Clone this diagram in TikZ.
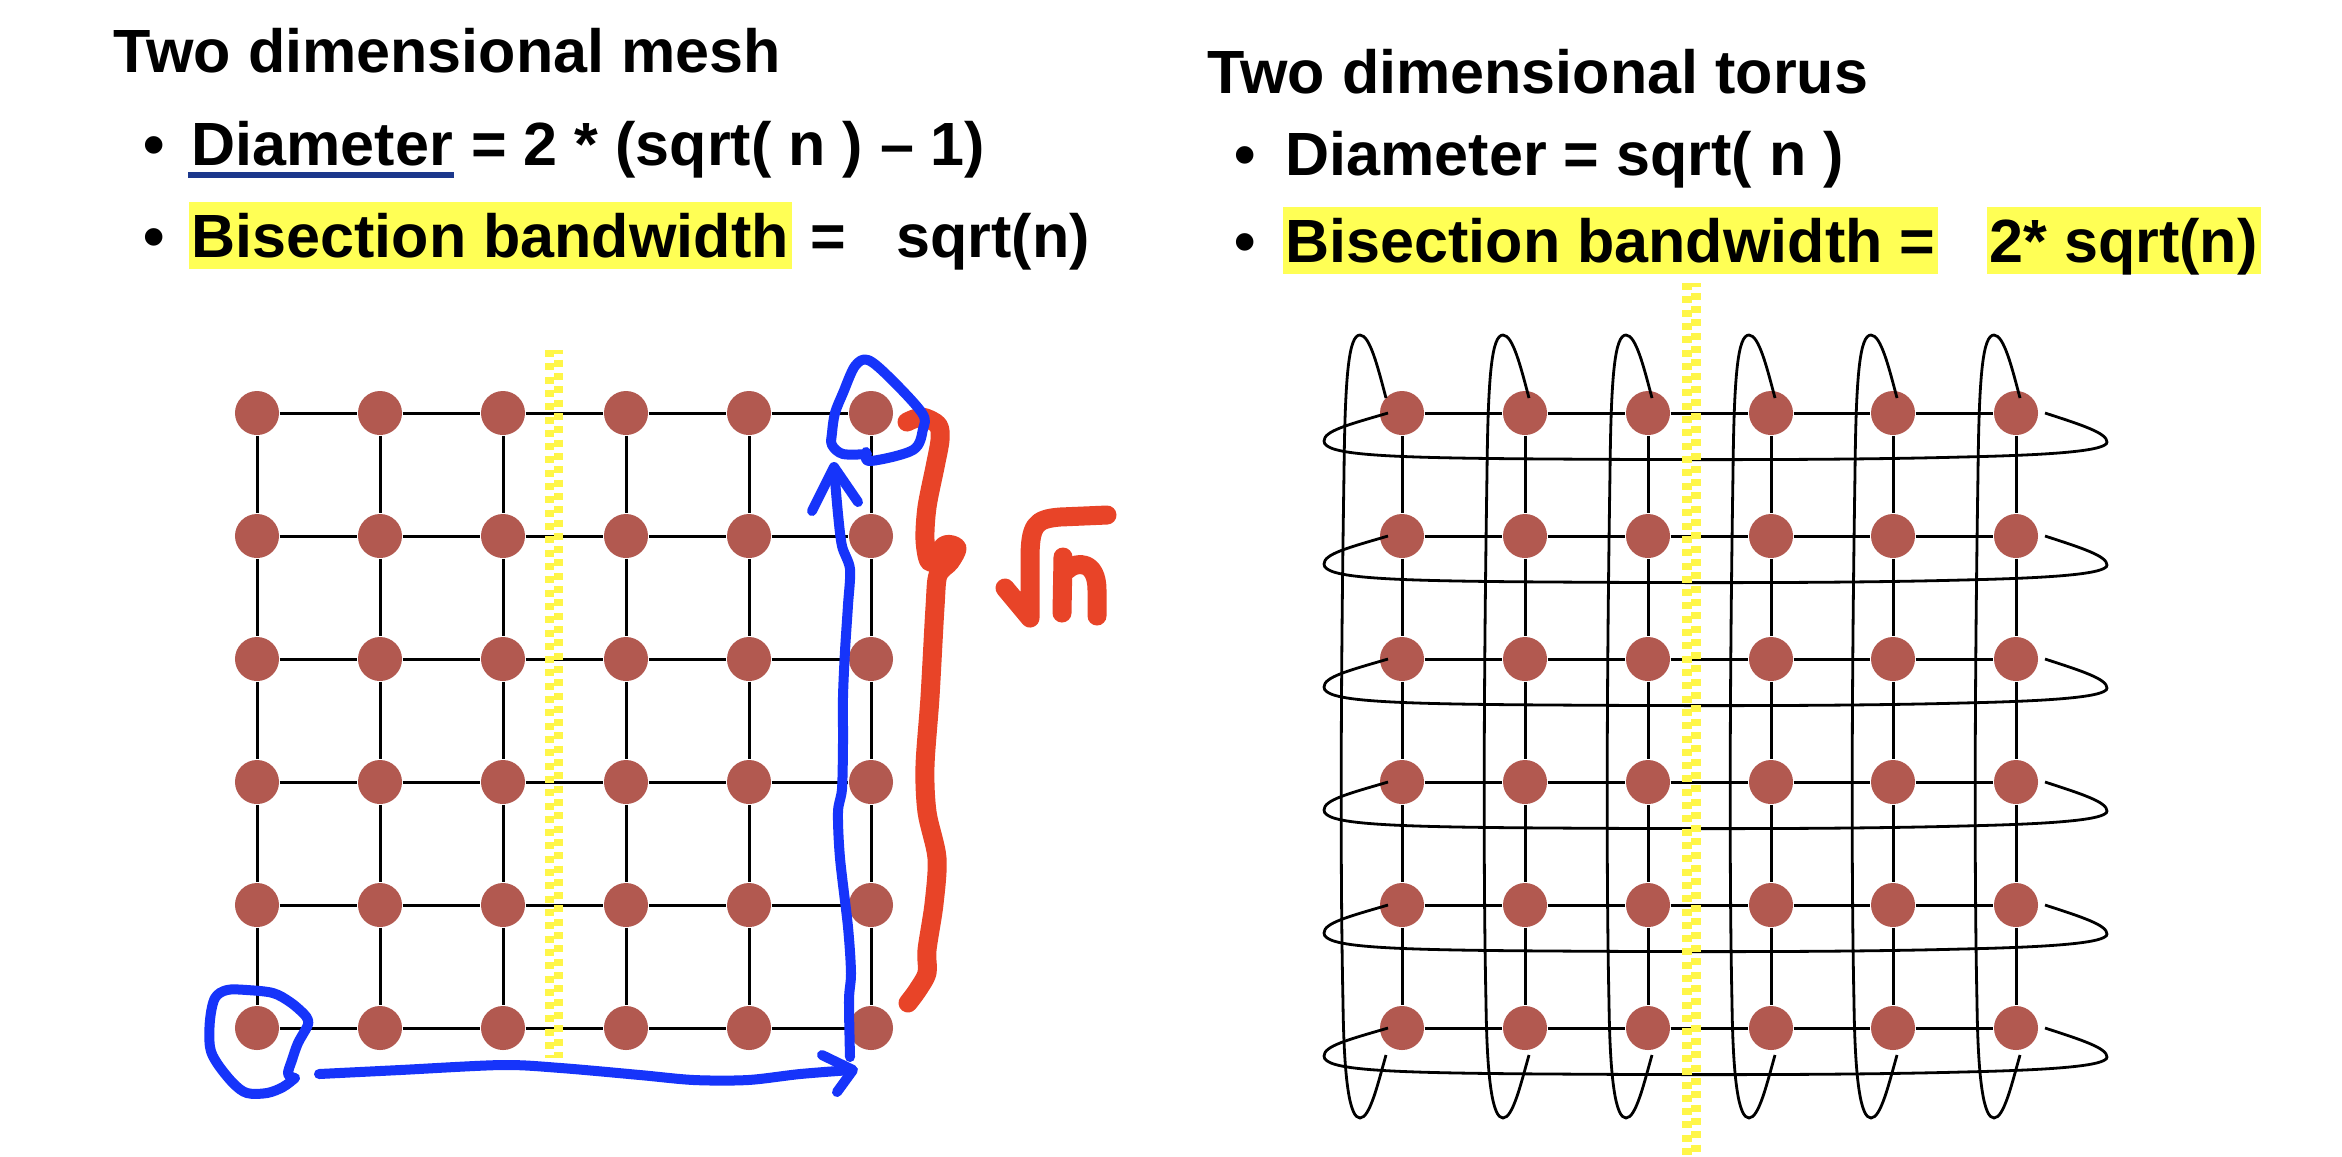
\documentclass[tikz,border=0pt]{standalone}
\usepackage{fontspec}
\setmainfont{Liberation Sans}
\usetikzlibrary{calc}
\definecolor{nodered}{RGB}{178,89,80}
\definecolor{hl}{RGB}{255,255,85}
\definecolor{ydash}{RGB}{255,246,72}
\definecolor{penblue}{RGB}{22,52,250}
\definecolor{penred}{RGB}{232,68,40}
\definecolor{ulblue}{RGB}{28,56,140}
\begin{document}
\begin{tikzpicture}[x=0.01cm, y=-0.01cm,
  font=\bfseries\fontsize{17.36pt}{20pt}\selectfont,
  vert/.style={circle, fill=nodered, minimum size=0.44cm, inner sep=0},
  link/.style={line width=0.03cm, black},
  wrap/.style={line width=0.028cm, black},
  lbl/.style={anchor=base west, inner sep=0},
  hilite/.style={anchor=base west, fill=hl, inner xsep=0.03cm, inner ysep=0,
    text height=0.55cm, text depth=0.12cm},
  underl/.style={ulblue, line width=0.06cm},
  cut/.style={ydash, line width=0.092cm, dash pattern=on 0.07cm off 0.063cm},
  bluepen/.style={penblue, line width=0.1cm, line cap=round, line join=round},
  redpen/.style={penred, line width=0.19cm, line cap=round, line join=round}]

\fill[white] (0,0) rectangle (2342,1156);
\useasboundingbox (0,0) rectangle (2342,1156);

% ---------- texts ----------
\node[lbl] (titleL) at (113,72) {Two dimensional mesh};
\node[lbl] (bulL1) at (143,165) {•};
\node[lbl] (diaL) at (191,165) {Diameter};
\node[lbl] (diaLr) at (diaL.base east) {\ = 2 * (sqrt( n ) – 1)};
\draw[underl] ($(diaL.base west)+(-3,10)$) -- ($(diaL.base east)+(0,10)$);
\node[lbl] (bulL2) at (143,257) {•};
\node[hilite] (bisL) at (188,257) {Bisection bandwidth};
\node[lbl] (bisLr) at (bisL.base east) {\ =\ \ \ sqrt(n)};

\node[lbl] (titleR) at (1207,93) {Two dimensional torus};
\node[lbl] (bulR1) at (1234,175) {•};
\node[lbl] (diaR) at (1285,175) {Diameter = sqrt( n )};
\node[lbl] (bulR2) at (1234,262) {•};
\node[hilite] (bisR) at (1282,262) {Bisection bandwidth =};
\node[hilite] (bisRr) at (1986,262) {2* sqrt(n)};

% ---------- mesh ----------
\foreach \r/\yy in {1/413,2/536,3/659,4/782,5/905,6/1028}{
  \foreach \c/\xx in {1/257,2/380,3/503,4/626,5/749,6/871}{
    \node[vert] (m\r\c) at (\xx,\yy) {};
  }
  \foreach \c/\xx in {1/1402,2/1525,3/1648,4/1771,5/1893,6/2016}{
    \node[vert] (t\r\c) at (\xx,\yy) {};
  }
}
\foreach \r in {1,...,6}{
  \foreach \c [count=\n from 2] in {1,...,5}{
    \draw[link] (m\r\c) -- (m\r\n);
    \draw[link] (t\r\c) -- (t\r\n);
    \draw[link] (m\c\r) -- (m\n\r);
    \draw[link] (t\c\r) -- (t\n\r);
  }
}

% ---------- torus wrap-around links ----------
\foreach \c/\dx in {1/-20,2/0,3/0,4/0,5/0,6/0}{
  \draw[wrap, shift={($(t1\c)+(\dx,0)$)}]
    (4,-15) .. controls (-4,-45) and (-12,-78) .. (-22,-78)
    .. controls (-33,-78) and (-37,-40) .. (-38,60)
    .. controls (-41,250) and (-42,450) .. (-39,590)
    .. controls (-38,670) and (-32,705) .. (-22,705)
    .. controls (-12,705) and (-4,670) .. (4,642);
}
\foreach \r in {1,...,6}{
  \draw[wrap, shift={(t\r1)}]
    (-14,0) .. controls (-55,12) and (-78,18) .. (-78,28)
    .. controls (-78,42) and (-20,45) .. (150,46)
    .. controls (300,47) and (450,47) .. (560,44)
    .. controls (650,42) and (705,38) .. (705,29)
    .. controls (705,20) and (680,12) .. (643,0);
}

% ---------- bisection cuts ----------
\draw[cut] (549.5,350) -- (549.5,1058);
\draw[cut, dash phase=0.035cm] (558.5,350) -- (558.5,1058);
\draw[cut] (1687,283) -- (1687,1156);
\draw[cut, dash phase=0.035cm] (1696,283) -- (1696,1156);

% ---------- red annotation ----------
\draw[redpen] plot[smooth, tension=0.5] coordinates {(907,422) (922,417) (938,425) (940,440) (935,467) (927,507) (925,540) (930,562) (945,545) (957,548) (950,562) (938,575) (935,607) (930,697) (925,766) (927,812) (937,858) (934,904) (927,950) (927,973) (917,991) (908,1003)};
\draw[redpen] (1005,588) -- (1030,618) -- (1030,560) .. controls (1030,525) and (1035,519) .. (1060,517) -- (1107,515);
\draw[redpen] (1063,557) -- (1062,613);
\draw[redpen] (1067,570) .. controls (1076,561) and (1097,560) .. (1097,590) -- (1097,616);

% ---------- blue annotation ----------
\draw[bluepen] plot[smooth, tension=0.55] coordinates {(295,1078) (288,1074) (292,1060) (298,1043) (307,1027) (308,1020) (303,1013) (290,1002) (273,993) (247,990) (227,990) (215,998) (210,1020) (210,1047) (217,1063) (233,1083) (247,1093) (267,1093) (283,1087) (295,1078)};
\draw[bluepen] plot[smooth, tension=0.5] coordinates {(319,1074) (400,1070) (502,1065) (561,1068) (640,1075) (694,1080) (748,1080) (800,1074) (851,1070)};
\draw[bluepen] (822,1055) -- (853,1070) -- (837,1092);
\draw[bluepen] plot[smooth, tension=0.5] coordinates {(850,1057) (849,1000) (851,973) (848,927) (840,858) (838,812) (842,789) (843,743) (843,697) (845,651) (848,605) (850,569) (842,546) (838,514) (834,468)};
\draw[bluepen] (812,511) -- (834,467) -- (858,502);
\draw[bluepen] plot[smooth, tension=0.55] coordinates {(867,454) (843,454) (832,445) (832,433) (835,413) (843,393) (855,366) (868,360) (890,378) (922,413) (923,429) (913,450) (870,461) (866,452)};
\end{tikzpicture}
\end{document}
